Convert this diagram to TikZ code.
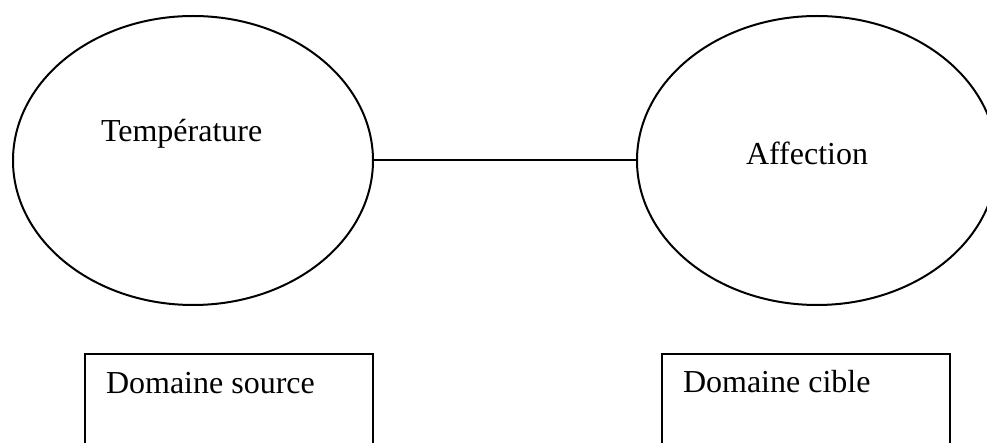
\documentclass[tikz,border=0pt]{standalone}
\usepackage{fontspec}
\setmainfont{Liberation Serif}
\usetikzlibrary{shapes.geometric}
\begin{document}
\begin{tikzpicture}[x=0.5pt,y=-0.5pt,
  line width=1pt,
  conceptoval/.style={ellipse,draw=black,inner sep=0pt,minimum width=180pt,minimum height=144.5pt},
  framebox/.style={rectangle,draw=black,inner sep=0pt,anchor=north west,minimum width=144pt,minimum height=60pt},
  captiontext/.style={anchor=base west,inner sep=0pt,font=\fontsize{16pt}{19pt}\selectfont}]
  \useasboundingbox (0,0) rectangle (987,443);
  \clip (0,0) rectangle (987,443);
  \fill[white] (0,0) rectangle (987,443);

  % the two conceptual domains
  \node[conceptoval] (srcE) at (193,160.5) {};
  \node[conceptoval] (tgtE) at (817,160.5) {};
  \draw (srcE.east) -- (tgtE.west);

  \node[captiontext] (srcT) at (100,142) {Température};
  \node[captiontext] (tgtT) at (745,165) {Affection};

  % captions below, frames run past the lower edge
  \node[framebox] (srcB) at (84,353) {};
  \node[framebox] (tgtB) at (661,353) {};
  \node[captiontext] (srcL) at (105,394) {Domaine source};
  \node[captiontext] (tgtL) at (682,393) {Domaine cible};
\end{tikzpicture}
\end{document}
